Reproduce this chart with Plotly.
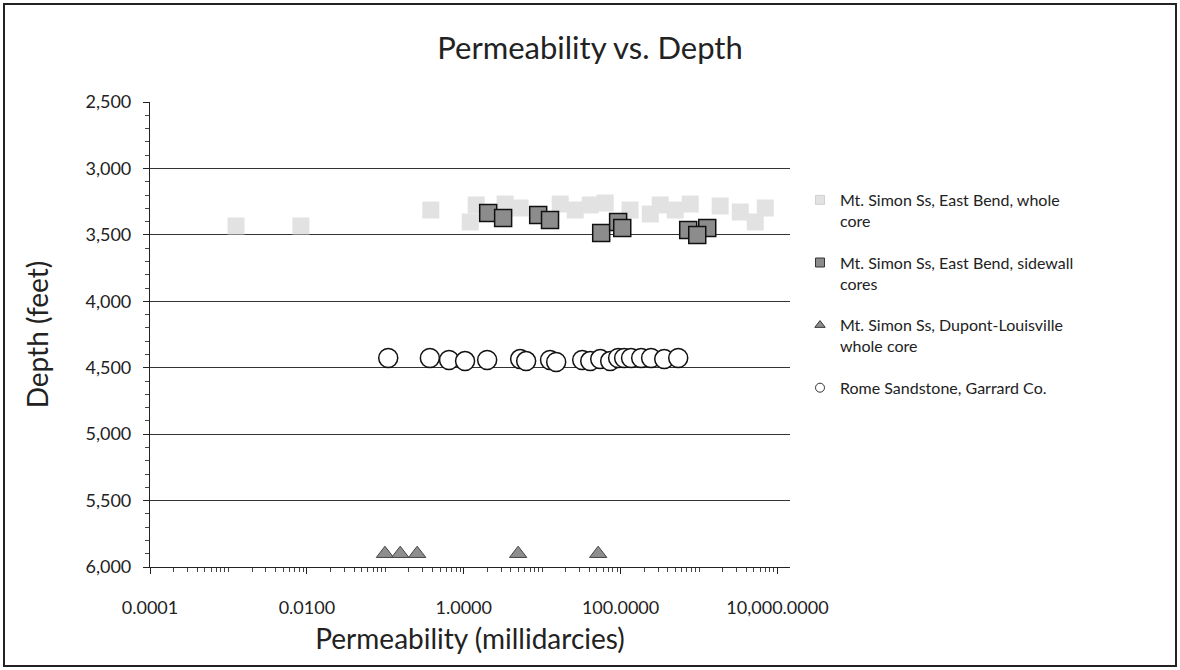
import plotly.graph_objects as go

# East Bend whole core (permeability md, depth ft)
whole_perm = [0.00125, 0.0084, 0.38, 1.21, 1.44, 3.37, 5.24, 17.0, 26.4, 41.0, 63.6,
              132, 239, 320, 497, 773, 1860, 3360, 5210, 6990]
whole_depth = [3433, 3433, 3313, 3403, 3275, 3268, 3298, 3268, 3313, 3275, 3260,
               3313, 3343, 3275, 3313, 3268, 3283, 3328, 3403, 3298]

# East Bend sidewall cores
side_perm = [2.05, 3.18, 8.9, 12.6, 56.6, 93, 105, 728, 1273, 949]
side_depth = [3335, 3373, 3351, 3388, 3486, 3403, 3448, 3463, 3448, 3501]

# Dupont-Louisville whole core
dupont_perm = [0.099, 0.155, 0.255, 4.94, 51.8]
dupont_depth = [5900, 5900, 5900, 5900, 5900]

# Rome Sandstone, Garrard Co.
rome_perm = [0.109, 0.37, 0.65, 1.04, 1.99, 5.24, 6.25, 12.6, 15.1, 32.4, 41, 55,
             73.7, 93, 111, 136, 183, 245, 360, 543]
rome_depth = [4427, 4427, 4442, 4450, 4442, 4435, 4450, 4442, 4457, 4442, 4450, 4435,
              4450, 4427, 4427, 4427, 4427, 4427, 4435, 4427]

legend_names = [
    "Mt. Simon Ss, East Bend, whole<br>core",
    "Mt. Simon Ss, East Bend, sidewall<br>cores",
    "Mt. Simon Ss, Dupont-Louisville<br>whole core",
    "Rome Sandstone, Garrard Co.",
]

x_tickvals = [0.0001, 0.01, 1, 100, 10000]
x_ticktext = ["0.0001", "0.0100", "1.0000", "100.0000", "10,000.0000"]
y_tickvals = [2500, 3000, 3500, 4000, 4500, 5000, 5500, 6000]
y_ticktext = ["2,500", "3,000", "3,500", "4,000", "4,500", "5,000", "5,500", "6,000"]

FONT = "Lato, 'Open Sans', sans-serif"

fig = go.Figure()

styles = [
    dict(symbol="square", color="#e2e2e2", line=dict(width=0, color="#e2e2e2")),
    dict(symbol="square", color="#8c8c8c", line=dict(width=1.5, color="#111111")),
    dict(symbol="triangle-up", color="#8e8e8e", line=dict(width=1, color="#444444")),
    dict(symbol="circle", color="#ffffff", line=dict(width=1.5, color="#111111")),
]
sizes = [17, 17, 15, 19]
series = [(whole_perm, whole_depth), (side_perm, side_depth),
          (dupont_perm, dupont_depth), (rome_perm, rome_depth)]

for (xs, ys), st, sz in zip(series, styles, sizes):
    fig.add_trace(go.Scatter(
        x=xs, y=ys, mode="markers", showlegend=False,
        marker=dict(symbol=st["symbol"], size=sz, color=st["color"], line=st["line"]),
    ))

# small legend swatches
for i, (name, st) in enumerate(zip(legend_names, styles)):
    fig.add_trace(go.Scatter(
        x=[None], y=[None], mode="markers", name=name, legendgroup=f"g{i}",
        marker=dict(symbol=st["symbol"], size=9, color=st["color"],
                    line=dict(width=1, color="#333333" if i else "#d0d0d0")),
    ))

W, H = 1180, 670
ml, mr, mt, mb = 150, 390, 102, 103
pw, ph = W - ml - mr, H - mt - mb

fig.update_layout(
    width=W, height=H,
    margin=dict(l=ml, r=mr, t=mt, b=mb),
    paper_bgcolor="white", plot_bgcolor="white",
    font=dict(family=FONT, color="#222222"),
    title=dict(text="Permeability vs. Depth", x=0.5, xanchor="center",
               y=1 - 48 / H, yanchor="middle", font=dict(size=31, color="#222222")),
    legend=dict(x=(800 - ml) / pw, xanchor="left", y=(H - mb - 183) / ph, yanchor="top",
                font=dict(size=16, color="#222222"), traceorder="grouped",
                tracegroupgap=18, valign="top", itemwidth=30),
    xaxis=dict(
        type="log", range=[-4, 4.16], tickvals=x_tickvals, ticktext=x_ticktext,
        showgrid=False, zeroline=False, showline=True, linecolor="#222222", linewidth=1.2,
        ticks="outside", ticklen=6, tickcolor="#222222", ticklabelstandoff=18,
        minor=dict(ticks="outside", ticklen=4, tickcolor="#444444", dtick="D1"),
        tickfont=dict(size=18, color="#222222"),
        title=dict(text="Permeability (millidarcies)", font=dict(size=28, color="#222222"),
                   standoff=12),
    ),
    yaxis=dict(
        range=[6000, 2500], tickvals=y_tickvals, ticktext=y_ticktext,
        showgrid=True, gridcolor="#333333", gridwidth=1, zeroline=False,
        showline=True, linecolor="#222222", linewidth=1.2,
        ticks="outside", ticklen=6, tickcolor="#222222", ticklabelstandoff=8,
        minor=dict(ticks="outside", ticklen=4, tickcolor="#444444", dtick=100, showgrid=False),
        tickfont=dict(size=18, color="#222222"),
        title=dict(text="Depth (feet)", font=dict(size=28, color="#222222"), standoff=28),
    ),
)

# frame around the whole chart
fig.add_shape(type="rect", xref="paper", yref="paper",
              x0=(4 - ml) / pw, x1=(W - 4 - ml) / pw,
              y0=-(mb - 4) / ph, y1=1 + (mt - 4) / ph,
              line=dict(color="#222222", width=2), layer="above")

fig.write_html("out.html")
